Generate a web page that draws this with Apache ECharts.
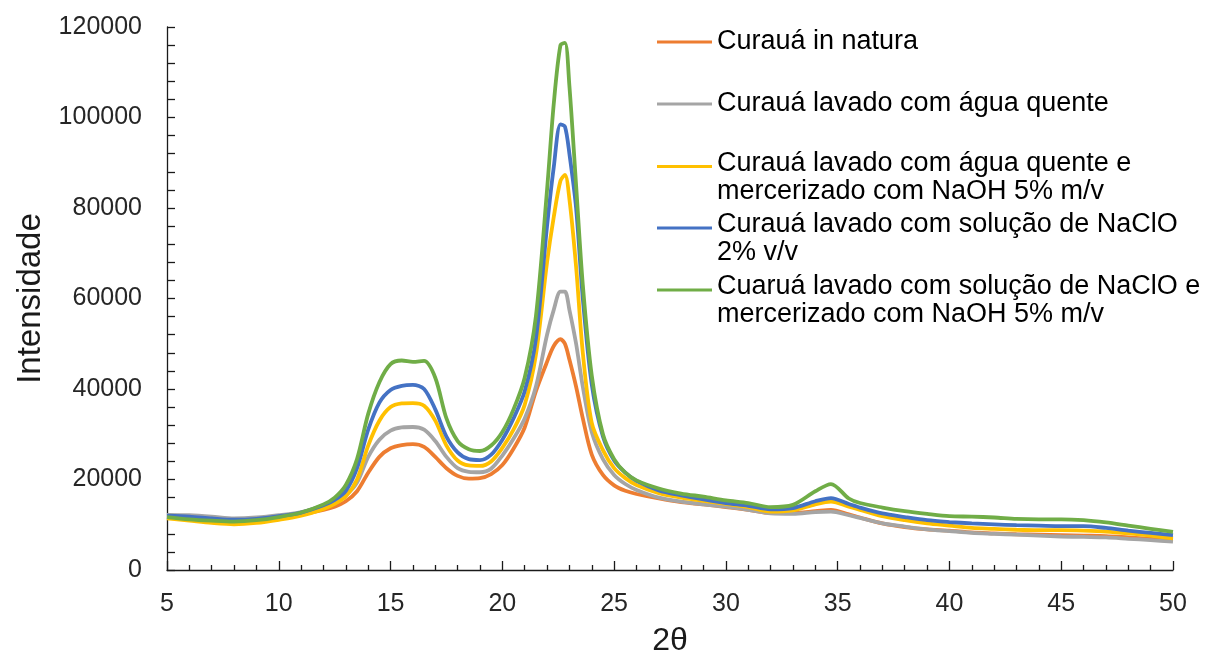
<!DOCTYPE html>
<html>
<head>
<meta charset="utf-8">
<script src="https://cdn.jsdelivr.net/npm/echarts@6/dist/echarts.min.js"></script>
<style>
html,body{margin:0;padding:0;background:#fff;}
#chart{width:1211px;height:657px;}
</style>
</head>
<body>
<div id="chart"></div>
<script>
// 2θ positions (shared by all series)
const twoTheta = [5, 6, 7, 8, 9, 10, 11, 12, 12.5, 13, 13.5, 14, 14.5, 15, 15.5, 16, 16.5, 17, 17.5, 18, 18.5, 19, 19.5, 20, 20.5, 21, 21.5, 22, 22.3, 22.6, 22.8, 23, 23.3, 23.6, 24, 24.5, 25, 25.5, 26, 27, 28, 29, 30, 31, 32, 33, 34, 34.7, 35.5, 36, 37, 38, 39, 40, 41, 42, 43, 44, 45, 46, 47, 48, 49, 50];

const inNatura = [11800, 11600, 11200, 10800, 11000, 11600, 12300, 13300, 14000, 15200, 17400, 21500, 25000, 26900, 27600, 27800, 27200, 25000, 22500, 20800, 20200, 20300, 21200, 23200, 26800, 31500, 39500, 46000, 49500, 51000, 50000, 46500, 40500, 33500, 25500, 21000, 18700, 17500, 16800, 15800, 15000, 14500, 13900, 13300, 12600, 12600, 13000, 13300, 12300, 11600, 10300, 9500, 9000, 8700, 8300, 8100, 7900, 7800, 7700, 7600, 7500, 7200, 6900, 6600];

const aguaQuente = [12200, 12100, 11800, 11400, 11600, 12100, 12800, 14000, 15000, 16500, 19300, 25000, 28800, 30800, 31500, 31600, 31000, 28500, 25000, 22500, 21700, 21600, 22400, 25300, 29000, 33500, 40500, 52000, 57500, 61500, 61500, 57500, 50000, 40500, 30500, 24500, 21000, 19000, 17700, 16000, 15100, 14500, 14000, 13300, 12500, 12400, 12800, 12900, 12100, 11500, 10300, 9600, 9000, 8600, 8200, 8000, 7800, 7600, 7400, 7300, 7200, 6900, 6600, 6250];

const aguaQuenteNaOH = [11400, 10900, 10400, 10100, 10400, 11100, 12000, 13500, 14600, 16300, 20000, 27500, 33000, 36000, 36800, 36900, 36300, 33000, 27500, 24200, 23100, 23000, 24000, 27000, 31000, 36500, 47500, 68000, 78000, 86000, 87300, 82000, 67000, 48000, 32500, 26500, 22500, 20300, 18800, 17000, 16000, 15300, 14600, 13900, 12900, 13200, 14500, 15100, 14000, 13300, 11900, 11000, 10300, 9800, 9300, 9100, 8900, 8800, 8800, 8700, 8500, 8100, 7600, 7000];

const naclo = [12000, 11800, 11400, 11100, 11300, 11900, 12700, 14300, 15500, 17500, 22500, 31000, 37000, 39800, 40700, 40900, 40000, 35500, 29500, 26000, 24500, 24300, 25500, 28800, 33500, 39500, 51000, 76000, 89000, 98500, 98000, 92000, 80000, 60000, 41000, 29500, 24200, 21500, 19700, 17600, 16500, 15600, 14800, 14200, 13400, 13700, 15200, 15900, 14600, 13800, 12500, 11700, 11000, 10600, 10300, 10100, 9900, 9800, 9700, 9700, 9300, 8700, 8200, 7700];

const nacloNaOH = [11700, 11200, 10900, 10700, 11000, 11700, 12700, 14500, 16000, 18800, 24500, 34500, 41500, 45500, 46300, 46000, 46200, 42500, 33500, 28500, 26700, 26300, 27500, 30500, 35500, 42500, 56000, 84000, 103000, 116000, 116500, 107000, 85000, 63000, 43000, 30000, 24500, 21500, 19800, 18000, 16900, 16200, 15400, 14800, 13900, 14400, 17400, 19000, 15800, 14800, 13800, 13000, 12400, 11900, 11800, 11600, 11300, 11200, 11200, 11000, 10500, 9800, 9100, 8400];

const seriesNames = [
  'Curauá in natura',
  'Curauá lavado com água quente',
  'Curauá lavado com água quente e\nmercerizado com NaOH 5% m/v',
  'Curauá lavado com solução de NaClO\n2% v/v',
  'Cuaruá lavado com solução de NaClO e\nmercerizado com NaOH 5% m/v'
];
const seriesValues = [inNatura, aguaQuente, aguaQuenteNaOH, naclo, nacloNaOH];
const seriesColors = ['#ED7D31', '#A5A5A5', '#FFC000', '#4472C4', '#70AD47'];

const xTitle = '2θ';
const yTitle = 'Intensidade';

const FONT = 'Liberation Sans, Arial, sans-serif';
const chart = echarts.init(document.getElementById('chart'), null, {renderer: 'canvas'});

const legendTops = [28, 90, 138.5, 200, 262];
const legendText = {fontFamily: FONT, fontSize: 27, color: '#000000'};
const legends = seriesNames.map((name, i) => {
  const twoLines = name.indexOf('\n') >= 0;
  return {
    orient: 'vertical',
    left: 657,
    top: legendTops[i],
    padding: 0,
    itemGap: 0,
    icon: 'rect',
    itemWidth: 55,
    itemHeight: 3,
    selectedMode: false,
    data: [name],
    formatter: twoLines ? function (n) {
      const parts = n.split('\n');
      return '{a|' + parts[0] + '}\n{b|' + parts[1] + '}';
    } : null,
    textStyle: Object.assign({}, legendText, {
      lineHeight: 28,
      rich: {
        a: Object.assign({}, legendText, {lineHeight: 50}),
        b: Object.assign({}, legendText, {lineHeight: 6})
      }
    })
  };
});

const option = {
  animation: false,
  backgroundColor: '#ffffff',
  legend: legends,
  grid: {left: 167, right: 38, top: 27, bottom: 87, containLabel: false, outerBoundsMode: 'none'},
  xAxis: {
    type: 'value',
    min: 5, max: 50, interval: 5,
    name: xTitle,
    nameLocation: 'middle',
    nameGap: 55,
    nameTextStyle: {fontFamily: FONT, fontSize: 32, color: '#1a1a1a'},
    axisLine: {show: true, onZero: false, lineStyle: {color: '#1a1a1a', width: 1.3}},
    axisTick: {show: true, inside: true, length: 9, lineStyle: {color: '#1a1a1a', width: 1.3}},
    minorTick: {show: true, splitNumber: 5, length: 5, lineStyle: {color: '#1a1a1a', width: 1.3}},
    axisLabel: {fontFamily: FONT, fontSize: 25, color: '#262626', margin: 22},
    splitLine: {show: false}
  },
  yAxis: {
    type: 'value',
    min: 0, max: 120000, interval: 20000,
    name: yTitle,
    nameLocation: 'middle',
    nameGap: 120,
    nameTextStyle: {fontFamily: FONT, fontSize: 33, color: '#1a1a1a'},
    axisLine: {show: true, lineStyle: {color: '#1a1a1a', width: 1.3}},
    axisTick: {show: true, inside: true, length: 8, lineStyle: {color: '#1a1a1a', width: 1.3}},
    minorTick: {show: true, splitNumber: 5, length: 8, lineStyle: {color: '#1a1a1a', width: 1.3}},
    axisLabel: {fontFamily: FONT, fontSize: 25, color: '#262626', margin: 25,
      formatter: function (v) { return String(v); }},
    splitLine: {show: false}
  },
  series: seriesNames.map((name, i) => ({
    name: name,
    type: 'line',
    data: twoTheta.map((x, j) => [x, seriesValues[i][j]]),
    showSymbol: false,
    smooth: 0.3,
    color: seriesColors[i],
    lineStyle: {color: seriesColors[i], width: 3.8},
    z: 2 + i
  }))
};
chart.setOption(option);
</script>
</body>
</html>
